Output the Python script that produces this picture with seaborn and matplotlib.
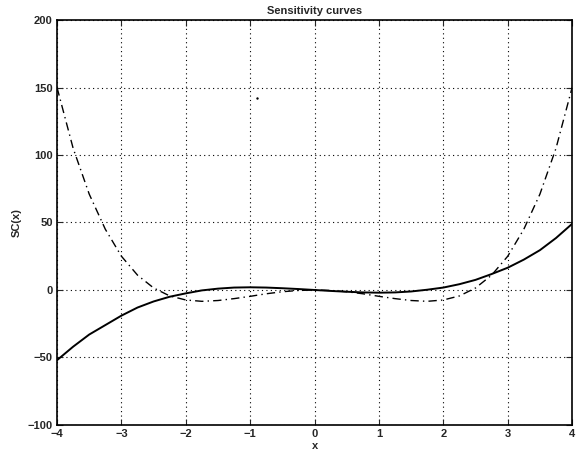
import pandas as pd
import numpy as np
import seaborn as sns
import matplotlib
matplotlib.use("Agg")
import matplotlib.pyplot as plt

######## Data ########
x_vals = [-4.0, -3.75, -3.5, -3.25, -3.0, -2.75, -2.5, -2.25, -2.0, -1.75, -1.5, -1.25,
          -1.0, -0.75, -0.5, -0.25, 0.0, 0.25, 0.5, 0.75, 1.0, 1.25, 1.5, 1.75,
          2.0, 2.25, 2.5, 2.75, 3.0, 3.25, 3.5, 3.75, 4.0]

solid_sc = [-52, -42, -33, -26, -19, -13, -8.5, -5, -2.5, -0.3, 1, 1.8,
            2, 1.8, 1.3, 0.7, 0, -0.7, -1.3, -1.8, -2, -1.8, -1.1, 0.2,
            1.8, 4.3, 7.5, 11.8, 16.5, 22.5, 29.5, 38.5, 49]

dashdot_sc = [150, 105, 71, 45, 25, 11, 1.5, -4.4, -7.4, -8.4, -7.8, -6.4,
              -4.7, -2.8, -1.3, -0.35, 0, -0.35, -1.3, -2.8, -4.7, -6.4, -7.8, -8.4,
              -7.4, -4.4, 1.5, 11, 25, 45, 71, 105, 150]

speck_x = [-0.9]
speck_y = [142]

x_ticks = [-4, -3, -2, -1, 0, 1, 2, 3, 4]
y_ticks = [-100, -50, 0, 50, 100, 150, 200]

df = pd.DataFrame({"x": x_vals, "solid": solid_sc, "dashdot": dashdot_sc})

######## Figure ########
sns.set_style("ticks")
plt.rcParams['font.family'] = ['Liberation Sans', 'DejaVu Sans']
plt.rcParams['xtick.direction'] = 'in'
plt.rcParams['ytick.direction'] = 'in'

fig = plt.figure(figsize=(5.82, 4.55), dpi=100)
ax = fig.add_axes([0.098, 0.066, 0.885, 0.890])

sns.lineplot(data=df, x="x", y="solid", ax=ax, color="black", linewidth=1.4)
sns.lineplot(data=df, x="x", y="dashdot", ax=ax, color="black", linewidth=1.0,
             linestyle=(0, (6, 3, 1, 3)))
sns.scatterplot(x=speck_x, y=speck_y, ax=ax, color="black", s=3, linewidth=0)

######## Axes ########
ax.set_xlim(-4, 4)
ax.set_ylim(-100, 200)
ax.set_xticks(x_ticks)
ax.set_yticks(y_ticks)
ax.tick_params(which="both", top=True, right=True, length=4, width=0.8,
               labelsize=8, pad=3)
for lab in ax.get_xticklabels() + ax.get_yticklabels():
    lab.set_fontweight("bold")

ax.grid(True, color="black", linestyle=(0, (1, 3)), linewidth=0.8)
for spine in ax.spines.values():
    spine.set_color("black")
    spine.set_linewidth(1.2)

ax.set_xlabel("x", fontsize=8, fontweight="bold", labelpad=1)
ax.set_ylabel("SC(x)", fontsize=8, fontweight="bold", labelpad=4)
ax.set_title("Sensitivity curves", fontsize=8, fontweight="bold", pad=4)

plt.savefig("out.png", dpi=100)
